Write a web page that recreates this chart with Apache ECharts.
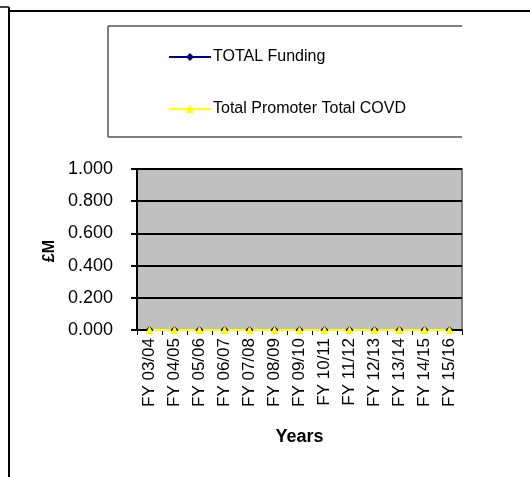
<!DOCTYPE html>
<html><head><meta charset="utf-8">
<script src="https://cdn.jsdelivr.net/npm/echarts@6/dist/echarts.min.js"></script>
<style>html,body{margin:0;padding:0;background:#fff}#c{width:530px;height:477px}</style>
</head><body><div id="c"></div>
<script>
var categories = ['FY 03/04','FY 04/05','FY 05/06','FY 06/07','FY 07/08','FY 08/09','FY 09/10','FY 10/11','FY 11/12','FY 12/13','FY 13/14','FY 14/15','FY 15/16'];
var totalFunding = [0,0,0,0,0,0,0,0,0,0,0,0,0];
var totalPromoter = [0,0,0,0,0,0,0,0,0,0,0,0,0];
var seriesNames = ['TOTAL Funding','Total Promoter Total COVD'];
var yTicks = {min:0, max:1, interval:0.2};

var chart = echarts.init(document.getElementById('c'));
var font = 'Liberation Sans, Arial, sans-serif';
chart.setOption({
  animation:false,
  backgroundColor:'#fff',
  graphic:[
    {type:'line',shape:{x1:0,y1:7,x2:9,y2:7},style:{stroke:'#000',lineWidth:1.5}},
    {type:'line',shape:{x1:9,y1:7,x2:9,y2:477},style:{stroke:'#000',lineWidth:2}},
    {type:'line',shape:{x1:9,y1:11,x2:530,y2:11},style:{stroke:'#000',lineWidth:2}},
    {type:'line',shape:{x1:108,y1:26,x2:462,y2:26},style:{stroke:'#555',lineWidth:1.5}},
    {type:'line',shape:{x1:108,y1:26,x2:108,y2:137},style:{stroke:'#555',lineWidth:1.5}},
    {type:'line',shape:{x1:108,y1:137,x2:462,y2:137},style:{stroke:'#555',lineWidth:1.5}},
    {type:'text',left:42,top:240,rotation:Math.PI/2,style:{text:'£M',font:'bold 16px '+font,fill:'#000'}}
  ],
  legend:{
    orient:'vertical',left:163,top:44,itemGap:36,itemWidth:42,itemHeight:10,
    textStyle:{fontFamily:font,fontSize:16,color:'#000',padding:[0,0,0,-3]},
    data:seriesNames
  },
  grid:{left:137,right:68,top:169,bottom:147,show:true,backgroundColor:'#c0c0c0',borderColor:'#808080',borderWidth:2,containLabel:false},
  xAxis:{
    type:'category',data:categories,boundaryGap:true,
    name:'Years',nameLocation:'middle',nameGap:98,
    nameTextStyle:{fontFamily:font,fontSize:18,fontWeight:'bold',color:'#000'},
    axisLine:{lineStyle:{color:'#000',width:2}},
    axisTick:{show:true,alignWithLabel:false,length:5,lineStyle:{color:'#000'}},
    axisLabel:{rotate:90,interval:0,fontFamily:font,fontSize:17,color:'#000',margin:8}
  },
  yAxis:{
    type:'value',min:yTicks.min,max:yTicks.max,interval:yTicks.interval,
    axisLine:{show:true,lineStyle:{color:'#000',width:2}},
    axisTick:{show:true,length:6,lineStyle:{color:'#000',width:2}},
    splitLine:{show:true,lineStyle:{color:'#000',width:2}},
    axisLabel:{fontFamily:font,fontSize:18,color:'#000',margin:24,formatter:function(v){return v.toFixed(3);}}
  },
  series:[
    {name:seriesNames[0],type:'line',data:totalFunding,symbol:'diamond',symbolSize:8,
      lineStyle:{color:'#000080',width:1.5},itemStyle:{color:'#000080'}},
    {name:seriesNames[1],type:'line',data:totalPromoter,symbol:'triangle',symbolSize:8,
      lineStyle:{color:'#ffff00',width:2},itemStyle:{color:'#ffff00'}}
  ]
});
</script></body></html>
